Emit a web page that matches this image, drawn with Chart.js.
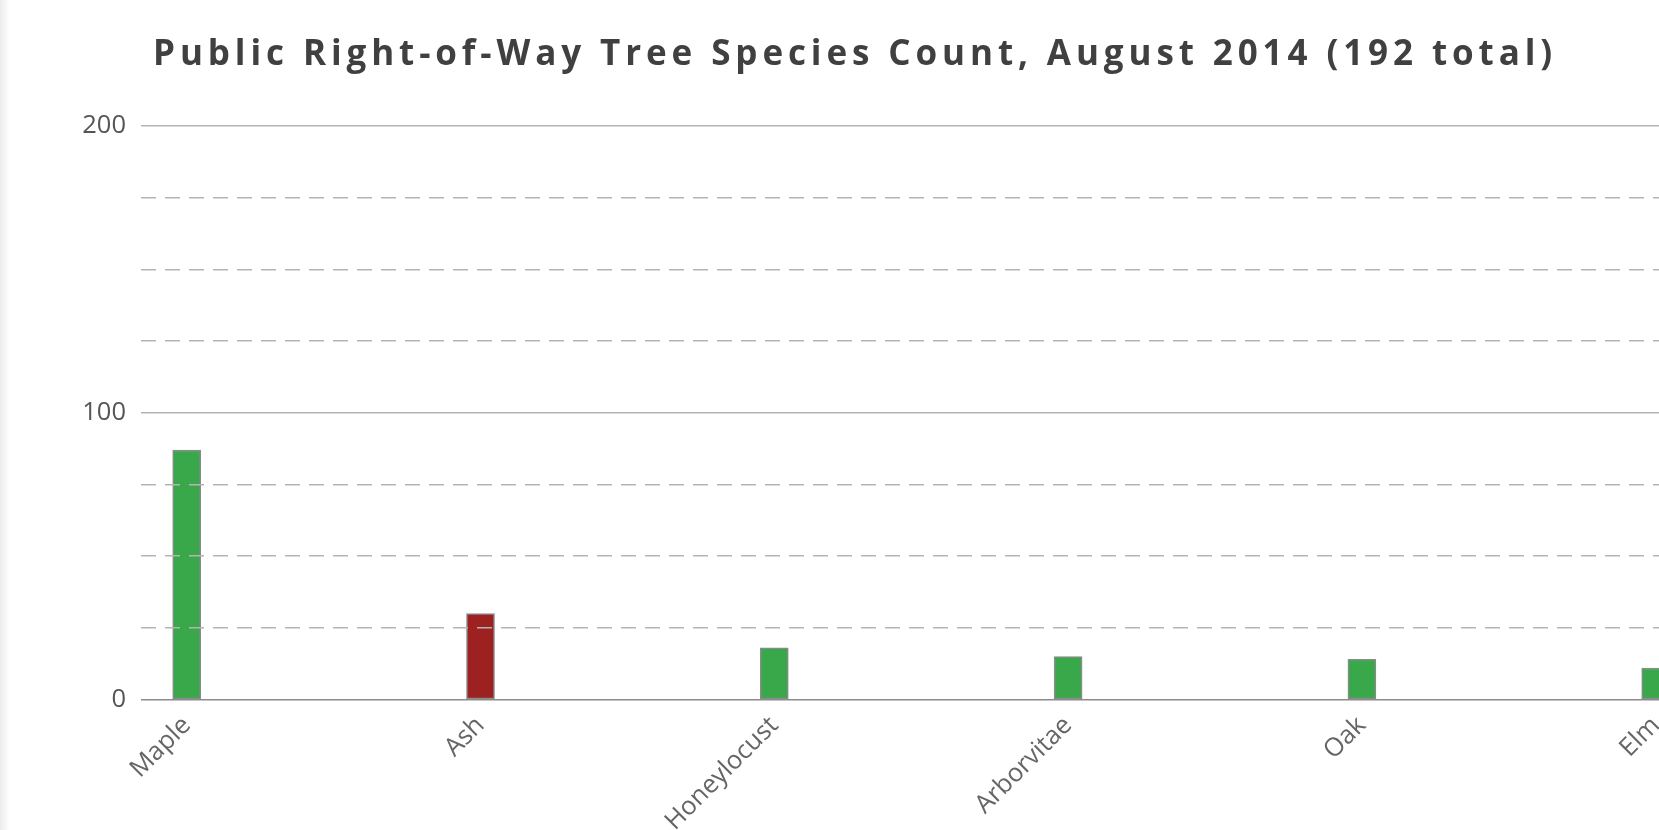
<!DOCTYPE html>
<html>
<head>
<meta charset="utf-8">
<title>Public Right-of-Way Tree Species Count</title>
<script src="https://cdn.jsdelivr.net/npm/chart.js@4"></script>
<style>
    html, body { margin: 0; padding: 0; background: #fff; overflow: hidden; }
    .edge { position: absolute; left: 0; top: 0; width: 10px; height: 830px;
            background: linear-gradient(to right, #ececec, #fff); z-index: 2; }
    .title { position: absolute; left: 153px; top: 28px; margin: 0; white-space: nowrap;
             font: 700 35px "Open Sans", sans-serif; letter-spacing: 4.9px; color: #404040; z-index: 3; }
    .wrap { position: absolute; left: 0; top: 0; width: 1740px; height: 830px; }
</style>
</head>
<body>
<div class="edge"></div>
<h1 class="title">Public Right-of-Way Tree Species Count, August 2014 (192 total)</h1>
<div class="wrap"><canvas id="treeChart"></canvas></div>
<script>
// ── Data ──────────────────────────────────────────────
var species = ['Maple', 'Ash', 'Honeylocust', 'Arborvitae', 'Oak', 'Elm'];
var counts  = [87, 30, 18, 15, 14, 11];
var barColors = ['#39a84a', '#9e2121', '#39a84a', '#39a84a', '#39a84a', '#39a84a'];
var yLabels = [0, 100, 200];

(function () {
    'use strict';

    var plotLeft = 141;
    var step     = 293.8;   // px between species
    var plotRight = 1720;

    var points = species.map(function (s, i) { return { x: i, y: counts[i] }; });
    var xMin = -(186.7 - plotLeft) / step;
    var xMax = xMin + (plotRight - plotLeft) / step;

    new Chart(document.getElementById('treeChart'), {
        type: 'bar',
        data: {
            datasets: [{
                data: points,
                backgroundColor: barColors,
                borderColor: '#8a8a8a',
                borderWidth: 1.5,
                borderSkipped: false,
                barThickness: 28
            }]
        },
        options: {
            responsive: true,
            maintainAspectRatio: false,
            animation: false,
            layout: { padding: { top: 126, left: 0, right: 20, bottom: 0 } },
            plugins: { legend: { display: false }, tooltip: { enabled: false } },
            scales: {
                x: {
                    type: 'linear',
                    offset: false,
                    min: xMin,
                    max: xMax,
                    afterBuildTicks: function (s) {
                        s.ticks = species.map(function (n, i) { return { value: i }; });
                    },
                    afterFit: function (s) { s.height = 830 - 699.5; },
                    grid: { display: false, drawTicks: false, offset: false },
                    border: { display: false },
                    ticks: {
                        autoSkip: false,
                        maxRotation: 45,
                        minRotation: 45,
                        padding: 11,
                        color: '#666',
                        font: { family: 'Open Sans', size: 25.5 },
                        callback: function (v) { return species[v]; }
                    }
                },
                y: {
                    min: 0,
                    max: 200,
                    afterFit: function (s) { s.width = plotLeft; },
                    afterBuildTicks: function (s) {
                        var t = [];
                        for (var v = 0; v <= 200; v += 25) t.push({ value: v });
                        s.ticks = t;
                    },
                    border: {
                        display: false,
                        dash: function (c) {
                            return (c.tick && c.tick.value % 100) ? [15, 9] : [];
                        }
                    },
                    grid: {
                        drawTicks: false,
                        z: 1,   // grid sits on top of the bars
                        lineWidth: 1.4,
                        color: function (c) {
                            if (c.tick && c.tick.value === 0) return '#8c8c8c';
                            return '#b4b4b4';
                        }
                    },
                    ticks: {
                        padding: 15,
                        color: '#555',
                        font: { family: 'Open Sans', size: 25.5 },
                        callback: function (v) { return yLabels.indexOf(v) >= 0 ? v : ''; }
                    }
                }
            }
        }
    });
}());
</script>
</body>
</html>
